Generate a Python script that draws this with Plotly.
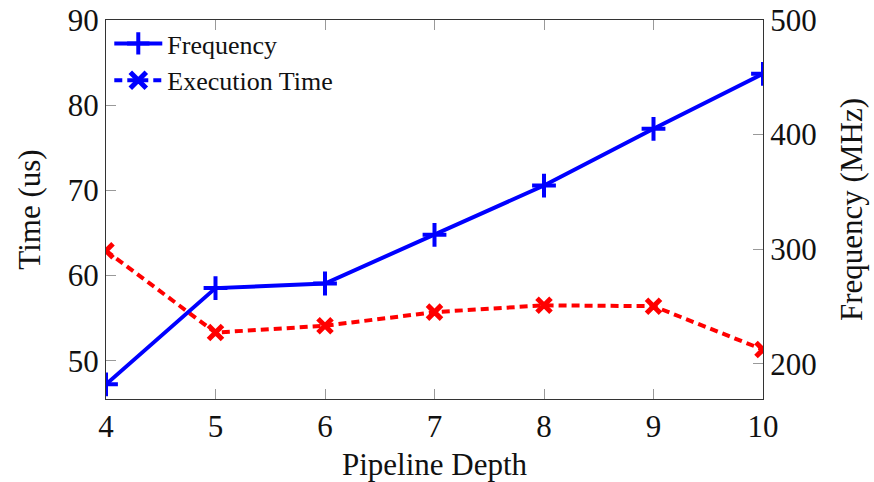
import plotly.graph_objects as go

depth = [4, 5, 6, 7, 8, 9, 10]
frequency_mhz = [182, 266, 270, 312.5, 355.5, 405, 453]
exec_time_us = [62.9, 53.3, 54.1, 55.7, 56.5, 56.4, 51.3]

x_ticks = [4, 5, 6, 7, 8, 9, 10]
time_ticks = [50, 60, 70, 80, 90]
freq_ticks = [200, 300, 400, 500]

FONT = "Liberation Serif"
BLUE = "#0000ff"
RED = "#ff0000"
FS = 31

fig = go.Figure()

fig.add_trace(go.Scatter(
    x=depth, y=frequency_mhz, yaxis="y2", name="Frequency",
    mode="lines+markers",
    line=dict(color=BLUE, width=4),
    marker=dict(symbol="cross-thin", size=17, line=dict(color=BLUE, width=4), color=BLUE),
))
fig.add_trace(go.Scatter(
    x=depth, y=exec_time_us, yaxis="y", name="Execution Time", showlegend=False,
    mode="lines+markers",
    line=dict(color=RED, width=4, dash="8px,5px"),
    marker=dict(symbol="x-thin", size=14, line=dict(color=RED, width=5), color=RED),
))
# legend entry (pgfplots draws it in blue)
fig.add_trace(go.Scatter(
    x=[None], y=[None], yaxis="y", name="Execution Time",
    mode="lines+markers",
    line=dict(color=BLUE, width=4, dash="8px,5px"),
    marker=dict(symbol="x-thin", size=16, line=dict(color=BLUE, width=5), color=BLUE),
))

axis_common = dict(
    showgrid=False, zeroline=False, ticks="inside", ticklen=10, tickwidth=1,
    tickcolor="#999999", linecolor="#333333", linewidth=1.2, automargin=False,
    ticklabeloverflow="allow",
    tickfont=dict(family=FONT, size=FS, color="#111111"),
)

fig.update_layout(
    width=874, height=482,
    margin=dict(l=106, r=111, t=20, b=83),
    plot_bgcolor="white", paper_bgcolor="white",
    font=dict(family=FONT, color="#111111"),
    xaxis=dict(
        range=[4, 10], tickvals=x_ticks, mirror="ticks", showline=True,
        title=dict(text="Pipeline Depth", font=dict(family=FONT, size=FS), standoff=10),
        **axis_common,
    ),
    yaxis=dict(
        range=[45.5, 90], tickvals=time_ticks, showline=True,
        title=dict(text="Time (us)", font=dict(family=FONT, size=FS), standoff=17),
        **axis_common,
    ),
    yaxis2=dict(
        range=[169.2, 500], tickvals=freq_ticks, overlaying="y", side="right", showline=True,
        title=dict(text="Frequency (MHz)", font=dict(family=FONT, size=FS), standoff=24),
        **axis_common,
    ),
    legend=dict(
        x=0.005, y=1.0, xanchor="left", yanchor="top",
        bgcolor="rgba(255,255,255,0)", borderwidth=0,
        font=dict(family=FONT, size=26, color="#111111"),
        tracegroupgap=0, itemwidth=48,
    ),
    showlegend=True,
)

fig.write_html(
    "out.html",
    config={"displayModeBar": False},
    post_script="document.body.style.margin='0';document.body.style.overflow='hidden';",
)
